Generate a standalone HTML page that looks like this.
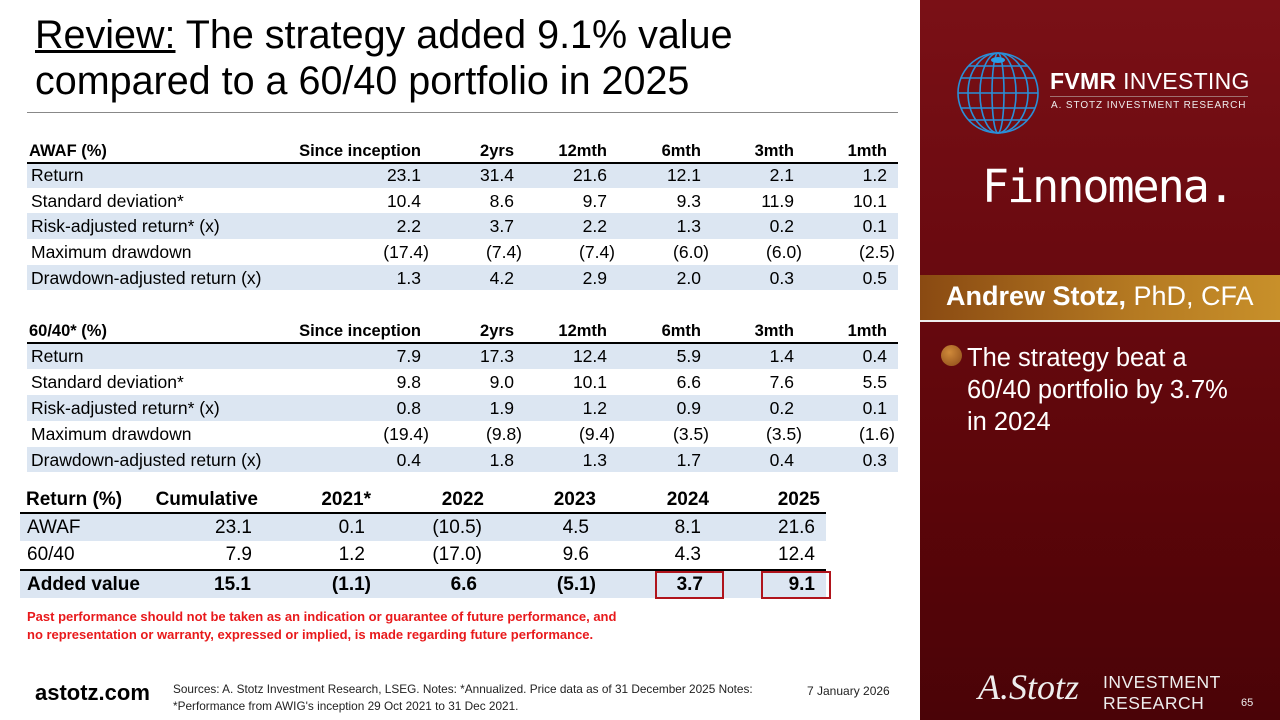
<!DOCTYPE html>
<html><head><meta charset="utf-8"><style>
*{margin:0;padding:0;box-sizing:border-box}
body{width:1280px;height:720px;position:relative;overflow:hidden;background:#fff;font-family:"Liberation Sans",Arial,sans-serif;color:#000}
.a{position:absolute;white-space:nowrap}
.t1{font-size:17.5px;line-height:26px}
.c{position:absolute;width:200px;margin-left:-100px;text-align:right;white-space:nowrap}
.b{position:absolute;background:#dce6f2}
.h{font-weight:bold}
.t3{font-size:19px;line-height:27px}
.t1 .h.c{font-size:16.5px}
</style></head><body>
<div class="a" style="left:35px;top:12px;font-size:39.5px;line-height:46px">
<span style="text-decoration:underline">Review:</span> The strategy added 9.1% value<br>compared to a 60/40 portfolio in 2025</div>
<div class="a" style="left:27px;top:112px;width:871px;height:1px;background:#888"></div>

<!-- Table 1 -->
<div class="b" style="left:27px;top:162px;width:871px;height:26px"></div>
<div class="b" style="left:27px;top:213px;width:871px;height:26px"></div>
<div class="b" style="left:27px;top:265px;width:871px;height:25px"></div>
<div class="a" style="left:27px;top:162px;width:871px;height:2px;background:#000"></div>
<div class="t1">
<div class="a h" style="left:29px;top:138px;font-size:16.5px">AWAF (%)</div>
<div class="c h" style="left:321px;top:138px">Since inception</div><div class="c h" style="left:414px;top:138px">2yrs</div><div class="c h" style="left:507px;top:138px">12mth</div><div class="c h" style="left:601px;top:138px">6mth</div><div class="c h" style="left:694px;top:138px">3mth</div><div class="c h" style="left:787px;top:138px">1mth</div>
<div class="a" style="left:31px;top:162px">Return</div>
<div class="c" style="left:321px;top:162px">23.1</div><div class="c" style="left:414px;top:162px">31.4</div><div class="c" style="left:507px;top:162px">21.6</div><div class="c" style="left:601px;top:162px">12.1</div><div class="c" style="left:694px;top:162px">2.1</div><div class="c" style="left:787px;top:162px">1.2</div>
<div class="a" style="left:31px;top:188px">Standard deviation*</div>
<div class="c" style="left:321px;top:188px">10.4</div><div class="c" style="left:414px;top:188px">8.6</div><div class="c" style="left:507px;top:188px">9.7</div><div class="c" style="left:601px;top:188px">9.3</div><div class="c" style="left:694px;top:188px">11.9</div><div class="c" style="left:787px;top:188px">10.1</div>
<div class="a" style="left:31px;top:213px">Risk-adjusted return* (x)</div>
<div class="c" style="left:321px;top:213px">2.2</div><div class="c" style="left:414px;top:213px">3.7</div><div class="c" style="left:507px;top:213px">2.2</div><div class="c" style="left:601px;top:213px">1.3</div><div class="c" style="left:694px;top:213px">0.2</div><div class="c" style="left:787px;top:213px">0.1</div>
<div class="a" style="left:31px;top:239px">Maximum drawdown</div>
<div class="c" style="left:329px;top:239px">(17.4)</div><div class="c" style="left:422px;top:239px">(7.4)</div><div class="c" style="left:515px;top:239px">(7.4)</div><div class="c" style="left:609px;top:239px">(6.0)</div><div class="c" style="left:702px;top:239px">(6.0)</div><div class="c" style="left:795px;top:239px">(2.5)</div>
<div class="a" style="left:31px;top:265px">Drawdown-adjusted return (x)</div>
<div class="c" style="left:321px;top:265px">1.3</div><div class="c" style="left:414px;top:265px">4.2</div><div class="c" style="left:507px;top:265px">2.9</div><div class="c" style="left:601px;top:265px">2.0</div><div class="c" style="left:694px;top:265px">0.3</div><div class="c" style="left:787px;top:265px">0.5</div>
</div>

<!-- Table 2 -->
<div class="b" style="left:27px;top:343px;width:871px;height:26px"></div>
<div class="b" style="left:27px;top:395px;width:871px;height:26px"></div>
<div class="b" style="left:27px;top:447px;width:871px;height:25px"></div>
<div class="a" style="left:27px;top:342px;width:871px;height:2px;background:#000"></div>
<div class="t1">
<div class="a h" style="left:29px;top:318px;font-size:16.5px">60/40* (%)</div>
<div class="c h" style="left:321px;top:318px">Since inception</div><div class="c h" style="left:414px;top:318px">2yrs</div><div class="c h" style="left:507px;top:318px">12mth</div><div class="c h" style="left:601px;top:318px">6mth</div><div class="c h" style="left:694px;top:318px">3mth</div><div class="c h" style="left:787px;top:318px">1mth</div>
<div class="a" style="left:31px;top:343px">Return</div>
<div class="c" style="left:321px;top:343px">7.9</div><div class="c" style="left:414px;top:343px">17.3</div><div class="c" style="left:507px;top:343px">12.4</div><div class="c" style="left:601px;top:343px">5.9</div><div class="c" style="left:694px;top:343px">1.4</div><div class="c" style="left:787px;top:343px">0.4</div>
<div class="a" style="left:31px;top:369px">Standard deviation*</div>
<div class="c" style="left:321px;top:369px">9.8</div><div class="c" style="left:414px;top:369px">9.0</div><div class="c" style="left:507px;top:369px">10.1</div><div class="c" style="left:601px;top:369px">6.6</div><div class="c" style="left:694px;top:369px">7.6</div><div class="c" style="left:787px;top:369px">5.5</div>
<div class="a" style="left:31px;top:395px">Risk-adjusted return* (x)</div>
<div class="c" style="left:321px;top:395px">0.8</div><div class="c" style="left:414px;top:395px">1.9</div><div class="c" style="left:507px;top:395px">1.2</div><div class="c" style="left:601px;top:395px">0.9</div><div class="c" style="left:694px;top:395px">0.2</div><div class="c" style="left:787px;top:395px">0.1</div>
<div class="a" style="left:31px;top:421px">Maximum drawdown</div>
<div class="c" style="left:329px;top:421px">(19.4)</div><div class="c" style="left:422px;top:421px">(9.8)</div><div class="c" style="left:515px;top:421px">(9.4)</div><div class="c" style="left:609px;top:421px">(3.5)</div><div class="c" style="left:702px;top:421px">(3.5)</div><div class="c" style="left:795px;top:421px">(1.6)</div>
<div class="a" style="left:31px;top:447px">Drawdown-adjusted return (x)</div>
<div class="c" style="left:321px;top:447px">0.4</div><div class="c" style="left:414px;top:447px">1.8</div><div class="c" style="left:507px;top:447px">1.3</div><div class="c" style="left:601px;top:447px">1.7</div><div class="c" style="left:694px;top:447px">0.4</div><div class="c" style="left:787px;top:447px">0.3</div>
</div>

<!-- Table 3 -->
<div class="b" style="left:20px;top:514px;width:806px;height:27px"></div>
<div class="b" style="left:20px;top:571px;width:806px;height:27px"></div>
<div class="a" style="left:20px;top:512px;width:806px;height:2px;background:#000"></div>
<div class="a" style="left:20px;top:569px;width:806px;height:2px;background:#000"></div>
<div class="t3">
<div class="a h" style="left:26px;top:486px">Return (%)</div>
<div class="c h" style="left:158px;top:486px">Cumulative</div><div class="c h" style="left:271px;top:486px">2021*</div><div class="c h" style="left:384px;top:486px">2022</div><div class="c h" style="left:496px;top:486px">2023</div><div class="c h" style="left:609px;top:486px">2024</div><div class="c h" style="left:720px;top:486px">2025</div>
<div class="a" style="left:27px;top:514px">AWAF</div>
<div class="c" style="left:152px;top:514px">23.1</div><div class="c" style="left:265px;top:514px">0.1</div><div class="c" style="left:382px;top:514px">(10.5)</div><div class="c" style="left:489px;top:514px">4.5</div><div class="c" style="left:601px;top:514px">8.1</div><div class="c" style="left:715px;top:514px">21.6</div>
<div class="a" style="left:27px;top:541px">60/40</div>
<div class="c" style="left:152px;top:541px">7.9</div><div class="c" style="left:265px;top:541px">1.2</div><div class="c" style="left:382px;top:541px">(17.0)</div><div class="c" style="left:489px;top:541px">9.6</div><div class="c" style="left:601px;top:541px">4.3</div><div class="c" style="left:715px;top:541px">12.4</div>
<div class="a h" style="left:27px;top:571px">Added value</div>
<div class="c h" style="left:151px;top:571px">15.1</div><div class="c h" style="left:271px;top:571px">(1.1)</div><div class="c h" style="left:377px;top:571px">6.6</div><div class="c h" style="left:496px;top:571px">(5.1)</div><div class="c h" style="left:603px;top:571px">3.7</div><div class="c h" style="left:715px;top:571px">9.1</div>
</div>
<div class="a" style="left:655px;top:571px;width:69px;height:28px;border:2px solid #b0141c"></div>
<div class="a" style="left:761px;top:571px;width:70px;height:28px;border:2px solid #b0141c"></div>

<div class="a" style="left:27px;top:608px;font-size:13px;line-height:18px;font-weight:bold;color:#e8191b">Past performance should not be taken as an indication or guarantee of future performance, and<br>no representation or warranty, expressed or implied, is made regarding future performance.</div>

<div class="a" style="left:35px;top:680px;font-size:22px;font-weight:bold">astotz.com</div>
<div class="a" style="left:173px;top:681px;font-size:11.8px;line-height:17px;color:#222">Sources: A. Stotz Investment Research, LSEG. Notes: *Annualized. Price data as of 31 December 2025 Notes:<br>*Performance from AWIG's inception 29 Oct 2021 to 31 Dec 2021.</div>
<div class="a" style="left:807px;top:684px;font-size:12px;color:#222">7 January 2026</div>

<!-- Right panel -->
<div class="a" style="left:920px;top:0;width:360px;height:720px;background:linear-gradient(180deg,#7a1016 0%,#6a0a10 35%,#5a0509 70%,#4a0307 100%)"></div>
<svg class="a" style="left:955px;top:50px" width="86" height="86" viewBox="0 0 86 86">
<g fill="none" stroke="#2a8fd8" stroke-width="1.6">
<circle cx="43" cy="43" r="40"/>
<ellipse cx="43" cy="43" rx="30" ry="40"/><ellipse cx="43" cy="43" rx="18" ry="40"/><ellipse cx="43" cy="43" rx="6" ry="40"/>
<line x1="3" y1="43" x2="83" y2="43"/><line x1="6" y1="28" x2="80" y2="28"/><line x1="6" y1="58" x2="80" y2="58"/><line x1="14" y1="16" x2="72" y2="16"/><line x1="14" y1="70" x2="72" y2="70"/>
</g><ellipse cx="43" cy="10" rx="7" ry="3" fill="#2a9fe8"/></svg>
<div class="a" style="left:1050px;top:68px;font-size:23px;font-weight:bold;color:#fff;letter-spacing:0.3px">FVMR <span style="font-weight:normal">INVESTING</span></div>
<div class="a" style="left:1050px;top:96px;width:198px;height:1px;background:#a07070"></div>
<div class="a" style="left:1051px;top:100px;font-size:10px;color:#eee;letter-spacing:0.9px">A. STOTZ INVESTMENT RESEARCH</div>
<div class="a" style="left:982px;top:160px;font-size:45px;color:#fff;font-family:'DejaVu Sans Mono','Liberation Mono',monospace;letter-spacing:-2px">Finnomena.</div>
<div class="a" style="left:920px;top:275px;width:360px;height:46px;background:linear-gradient(90deg,#8a4a12,#b57a22 60%,#c8902a)"></div>
<div class="a" style="left:920px;top:320px;width:360px;height:2px;background:#eee"></div>
<div class="a" style="left:946px;top:281px;font-size:27px;color:#fff"><b>Andrew Stotz,</b> PhD, CFA</div>
<div class="a" style="left:941px;top:345px;width:21px;height:21px;border-radius:50%;background:radial-gradient(circle at 40% 35%,#d08a3a,#8a4a18)"></div>
<div class="a" style="left:967px;top:342px;font-size:25.5px;line-height:32px;color:#fff">The strategy beat a<br>60/40 portfolio by 3.7%<br>in 2024</div>
<div class="a" style="left:978px;top:666px;font-size:36px;font-style:italic;font-family:'Liberation Serif',serif;color:#eee">A.Stotz</div>
<div class="a" style="left:1103px;top:672px;font-size:17.5px;line-height:21px;color:#eee;letter-spacing:0.5px">INVESTMENT<br>RESEARCH</div>
<div class="a" style="left:1241px;top:697px;font-size:11px;color:#eee">65</div>
</body></html>
